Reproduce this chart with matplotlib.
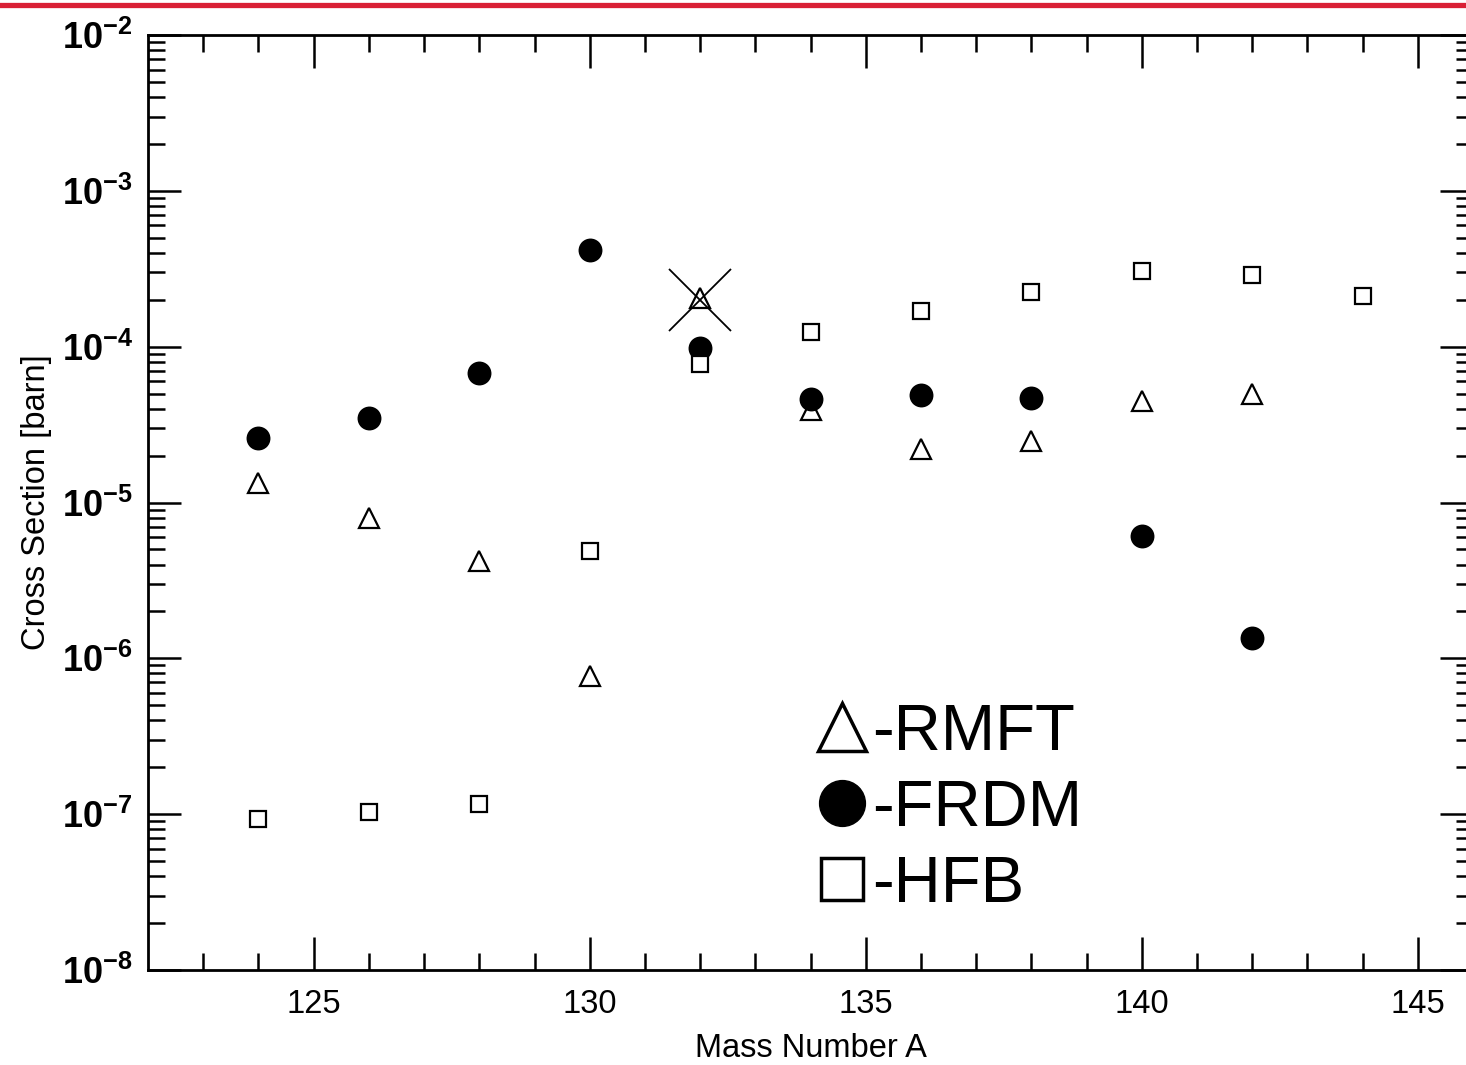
import math

import matplotlib

matplotlib.use("Agg")
import matplotlib.pyplot as plt
from matplotlib.lines import Line2D
from matplotlib.ticker import FixedLocator, NullFormatter, FuncFormatter

plt.rcParams["font.family"] = ["Liberation Sans", "DejaVu Sans"]
plt.rcParams["mathtext.fontset"] = "custom"
plt.rcParams["mathtext.rm"] = "Liberation Sans"
plt.rcParams["mathtext.bf"] = "Liberation Sans:bold"

# mass numbers and cross sections (barn)
mass_rmft = [124, 126, 128, 130, 132, 134, 136, 138, 140, 142]
xs_rmft = [1.33e-5, 8.0e-6, 4.2e-6, 7.7e-7, 2.05e-4, 3.9e-5, 2.2e-5, 2.5e-5, 4.5e-5, 5.0e-5]

mass_frdm = [124, 126, 128, 130, 132, 134, 136, 138, 140, 142]
xs_frdm = [2.6e-5, 3.5e-5, 6.8e-5, 4.2e-4, 9.8e-5, 4.6e-5, 4.9e-5, 4.7e-5, 6.1e-6, 1.35e-6]

mass_hfb = [124, 126, 128, 130, 132, 134, 136, 138, 140, 142, 144]
xs_hfb = [9.3e-8, 1.04e-7, 1.16e-7, 4.9e-6, 7.7e-5, 1.24e-4, 1.69e-4, 2.24e-4, 3.05e-4, 2.88e-4, 2.11e-4]

# measured point (big cross)
mass_meas = [132]
xs_meas = [2.0e-4]

x_major = [125, 130, 135, 140, 145]
x_minor = list(range(123, 146))
y_decades = [1e-8, 1e-7, 1e-6, 1e-5, 1e-4, 1e-3, 1e-2]

fig = plt.figure(figsize=(14.66, 10.65), dpi=100)
ax = fig.add_axes([0.101, 0.0892, 0.9038, 0.8779])

ax.plot(mass_rmft, xs_rmft, ls="none", marker="^", ms=14, mfc="white", mec="black", mew=1.6)
ax.plot(mass_frdm, xs_frdm, ls="none", marker="o", ms=16, mfc="black", mec="black", mew=1.2)
ax.plot(mass_hfb, xs_hfb, ls="none", marker="s", ms=11.5, mfc="white", mec="black", mew=1.6)
ax.plot(mass_meas, xs_meas, ls="none", marker="x", ms=45, mec="black", mew=1.3)

ax.set_yscale("log")
ax.set_xlim(122, 146)
ax.set_ylim(1e-8, 1e-2)

ax.xaxis.set_major_locator(FixedLocator(x_major))
ax.xaxis.set_minor_locator(FixedLocator(x_minor))
ax.yaxis.set_major_locator(FixedLocator(y_decades))
y_minor = [d * k for d in y_decades[:-1] for k in range(2, 10)]
ax.yaxis.set_minor_locator(FixedLocator(y_minor))
ax.yaxis.set_minor_formatter(NullFormatter())


def fmt_pow(v, pos):
    e = int(round(math.log10(v)))
    return r"$\mathbf{10^{%d}}$" % e


ax.yaxis.set_major_formatter(FuncFormatter(fmt_pow))

for s in ax.spines.values():
    s.set_linewidth(2.0)

ax.tick_params(which="both", direction="in", top=True, right=True, width=1.8)
ax.tick_params(which="major", length=24)
ax.tick_params(which="minor", length=12)
ax.tick_params(axis="x", which="major", labelsize=23.5, pad=14)
ax.tick_params(axis="y", which="major", labelsize=26, pad=11)

ax.set_xlabel("Mass Number A", fontsize=23.5, labelpad=9)
ax.set_ylabel("Cross Section [barn]", fontsize=23.5, labelpad=7)

handles = [
    Line2D([], [], ls="none", marker="^", ms=35, mfc="white", mec="black", mew=2.5),
    Line2D([], [], ls="none", marker="o", ms=33, mfc="black", mec="black"),
    Line2D([], [], ls="none", marker="s", ms=30, mfc="white", mec="black", mew=2.5),
]
ax.legend(handles, ["-RMFT", "-FRDM", "-HFB"], loc="upper left",
          bbox_to_anchor=(818 / 1466, 1 - 703 / 1065), bbox_transform=fig.transFigure,
          frameon=False, fontsize=47, handlelength=0.75, handletextpad=0.08,
          labelspacing=0.245, borderpad=0, borderaxespad=0)

# red band at the very top
fig.add_artist(Line2D([0, 1], [1 - 5 / 1065, 1 - 5 / 1065], transform=fig.transFigure,
                      color="#d92035", lw=3.8))

fig.savefig("out.png", dpi=100)
